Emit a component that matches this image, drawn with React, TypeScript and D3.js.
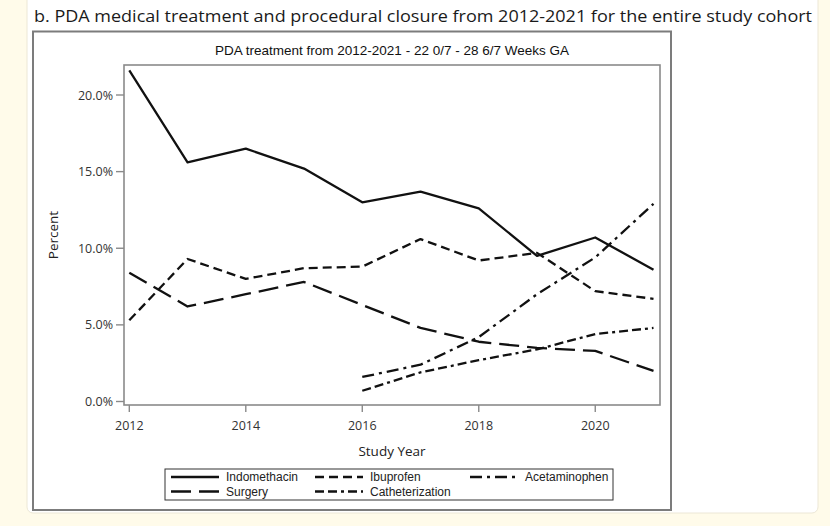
import React from "react";
import * as d3 from "d3";

const years = [2012, 2013, 2014, 2015, 2016, 2017, 2018, 2019, 2020, 2021];
const indomethacin = [21.6, 15.6, 16.5, 15.2, 13.0, 13.7, 12.6, 9.5, 10.7, 8.6];
const ibuprofen = [5.3, 9.3, 8.0, 8.7, 8.8, 10.6, 9.2, 9.7, 7.2, 6.7];
const surgery = [8.4, 6.2, 7.0, 7.8, 6.3, 4.8, 3.9, 3.5, 3.3, 2.0];
const lateYears = [2016, 2017, 2018, 2019, 2020, 2021];
const acetaminophen = [1.6, 2.4, 4.2, 7.0, 9.4, 12.9];
const catheterization = [0.7, 1.9, 2.7, 3.4, 4.4, 4.8];

const xTicks = [2012, 2014, 2016, 2018, 2020];
const yTicks = [0, 5, 10, 15, 20];

const caption =
  "b. PDA medical treatment and procedural closure from 2012-2021 for the entire study cohort";
const subtitle = "PDA treatment from 2012-2021 - 22 0/7 - 28 6/7 Weeks GA";
const xLabel = "Study Year";
const yLabel = "Percent";

type Series = { name: string; xs: number[]; ys: number[]; dash: string };

const series: Series[] = [
  { name: "Indomethacin", xs: years, ys: indomethacin, dash: "" },
  { name: "Ibuprofen", xs: years, ys: ibuprofen, dash: "9,5" },
  { name: "Acetaminophen", xs: lateYears, ys: acetaminophen, dash: "12,5,3,5" },
  { name: "Surgery", xs: years, ys: surgery, dash: "20,8" },
  { name: "Catheterization", xs: lateYears, ys: catheterization, dash: "9,4,9,4,3,4" },
];

const legendOrder = [
  ["Indomethacin", "Ibuprofen", "Acetaminophen"],
  ["Surgery", "Catheterization"],
];

const FONT = "'Open Sans', 'DejaVu Sans', sans-serif";
const ARIAL = "'Liberation Sans', Arial, sans-serif";

export default function App() {
  const W = 830;
  const H = 526;
  const frame = { l: 124, t: 65, r: 660, b: 405 };
  const x = d3.scaleLinear().domain([2012, 2021]).range([129.3, 653.5]);
  const y = d3.scaleLinear().domain([0, 20]).range([401.5, 95]);
  const line = (xs: number[], ys: number[]) =>
    d3
      .line<number>()
      .x((_, i) => x(xs[i]))
      .y((v) => y(v))(ys) as string;

  const legendCols = [171, 315, 470];
  const legendRows = [477, 491.5];
  const byName = (n: string) => series.find((s) => s.name === n)!;

  return (
    <svg
      width={W}
      height={H}
      style={{ position: "absolute", left: 0, top: 0 }}
      xmlns="http://www.w3.org/2000/svg"
    >
      <rect x={0} y={0} width={W} height={H} fill="#fffbea" />
      <rect x={27} y={-8} width={791} height={521} rx={6} fill="#ffffff" stroke="#ece7d6" strokeWidth={1} />
      <text
        x={34}
        y={22}
        fontFamily={FONT}
        fontSize={16.5}
        fill="#1a1a1a"
        textLength={778}
        lengthAdjust="spacingAndGlyphs"
      >
        {caption}
      </text>
      {/* outer graph border */}
      <rect x={33} y={31.5} width={638} height={478.5} fill="#ffffff" stroke="#7c7c7c" strokeWidth={2} />
      <text x={(frame.l + frame.r) / 2} y={55} textAnchor="middle" fontFamily={ARIAL} fontSize={13.5} fill="#111">
        {subtitle}
      </text>
      {/* plot frame */}
      <rect
        x={frame.l}
        y={frame.t}
        width={frame.r - frame.l}
        height={frame.b - frame.t}
        fill="none"
        stroke="#8a8a8a"
        strokeWidth={1.6}
      />
      {/* y axis */}
      {yTicks.map((t) => (
        <g key={"y" + t}>
          <line x1={frame.l - 8} x2={frame.l} y1={y(t)} y2={y(t)} stroke="#8a8a8a" strokeWidth={1.4} />
          <text x={frame.l - 11} y={y(t) + 4.5} textAnchor="end" fontFamily={FONT} fontSize={12.5} fill="#333">
            {d3.format(".1f")(t) + "%"}
          </text>
        </g>
      ))}
      <text
        transform={`translate(58, ${(frame.t + frame.b) / 2}) rotate(-90)`}
        textAnchor="middle"
        fontFamily={FONT}
        fontSize={13.5}
        fill="#222"
      >
        {yLabel}
      </text>
      {/* x axis */}
      {xTicks.map((t) => (
        <g key={"x" + t}>
          <line x1={x(t)} x2={x(t)} y1={frame.b} y2={frame.b + 7} stroke="#8a8a8a" strokeWidth={1.4} />
          <text x={x(t)} y={430} textAnchor="middle" fontFamily={FONT} fontSize={12.5} fill="#333">
            {t}
          </text>
        </g>
      ))}
      <text x={(frame.l + frame.r) / 2} y={456} textAnchor="middle" fontFamily={FONT} fontSize={13.5} fill="#222">
        {xLabel}
      </text>
      {/* series */}
      {series.map((s) => (
        <path
          key={s.name}
          d={line(s.xs, s.ys)}
          fill="none"
          stroke="#111"
          strokeWidth={2.3}
          strokeDasharray={s.dash || undefined}
          strokeLinejoin="round"
        />
      ))}
      {/* legend */}
      <rect x={165} y={469} width={448} height={31} fill="#fff" stroke="#333" strokeWidth={1} />
      {legendOrder.map((row, ri) =>
        row.map((n, ci) => {
          const s = byName(n);
          const lx = legendCols[ci];
          const ly = legendRows[ri];
          return (
            <g key={n}>
              <line x1={lx} x2={lx + 48} y1={ly} y2={ly} stroke="#111" strokeWidth={2.3} strokeDasharray={s.dash || undefined} />
              <text x={lx + 55} y={ly + 4.3} fontFamily={ARIAL} fontSize={12} fill="#222">
                {n}
              </text>
            </g>
          );
        })
      )}
    </svg>
  );
}
